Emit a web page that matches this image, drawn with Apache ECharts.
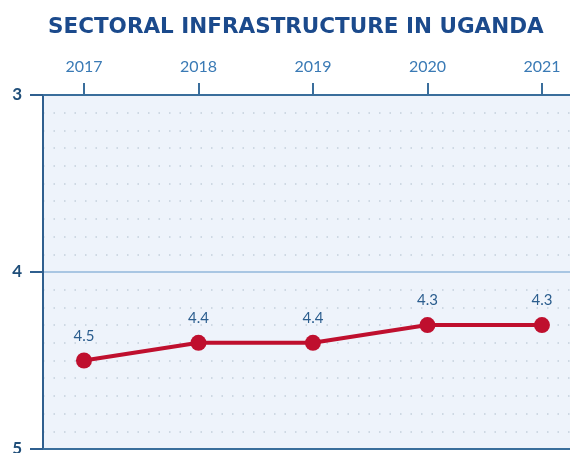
<!DOCTYPE html>
<html><head><meta charset="utf-8">
<script src="https://cdn.jsdelivr.net/npm/echarts@6/dist/echarts.min.js"></script>
<style>html,body{margin:0;padding:0;background:#fff}#c{width:570px;height:453px}</style>
</head><body><div id="c"></div>
<script>
const titleText = 'SECTORAL INFRASTRUCTURE IN UGANDA';
const years = [2017, 2018, 2019, 2020, 2021];
const values = [4.5, 4.4, 4.4, 4.3, 4.3];
const yTicks = [3, 4, 5];

const chart = echarts.init(document.getElementById('c'));
chart.setOption({
  animation: false,
  title: {
    text: titleText, left: 43, top: 11,
    textStyle: { fontFamily: 'DejaVu Sans', fontWeight: 'bold', fontSize: 21.5, color: '#1b4a8c' }
  },
  grid: { left: 43, right: 0, top: 95, bottom: 4, show: true, backgroundColor: '#eef3fb', borderWidth: 0, outerBoundsMode: 'none', containLabel: false },
  xAxis: [{
    type: 'value', position: 'top', min: 2016.642, max: 2021.245,
    axisLine: { show: true, lineStyle: { color: '#3a6e9c', width: 2 } },
    axisTick: { show: true, customValues: years, length: 12, lineStyle: { color: '#3a6e9c', width: 2 } },
    axisLabel: { customValues: years, formatter: v => String(v), color: '#3a7ab5', fontFamily: 'Lato', fontSize: 16, margin: 20 },
    splitLine: { show: false }
  }, {
    type: 'value', position: 'bottom', min: 2016.642, max: 2021.245,
    axisLine: { show: true, lineStyle: { color: '#3a6e9c', width: 2 } },
    axisTick: { show: false }, axisLabel: { show: false }, splitLine: { show: false }
  }],
  yAxis: {
    type: 'value', inverse: true, min: 3, max: 5, interval: 1,
    axisLine: { show: true, lineStyle: { color: '#2f5f8f', width: 2 } },
    axisTick: { show: true, length: 13, lineStyle: { color: '#2f5f8f', width: 2 } },
    axisLabel: { color: '#1f4e79', fontFamily: 'Lato', fontWeight: 'bold', fontSize: 17, margin: 21, customValues: yTicks },
    splitLine: { show: true, lineStyle: { color: '#a9c6e3', width: 2 } },
    minorTick: { show: false, splitNumber: 10 },
    minorSplitLine: { show: true, lineStyle: { color: '#c3cfdc', width: 1.5, type: [1.5, 9] } }
  },
  series: [{
    type: 'line', xAxisIndex: 0,
    data: years.map((y, i) => [y, values[i]]),
    lineStyle: { color: '#bf0f2e', width: 4 },
    itemStyle: { color: '#bf0f2e' },
    symbol: 'circle', symbolSize: 16,
    label: { show: true, position: 'top', distance: 9, color: '#2b5d8e', fontFamily: 'Lato', fontSize: 15, formatter: p => p.value[1].toFixed(1) }
  }]
});
</script></body></html>
